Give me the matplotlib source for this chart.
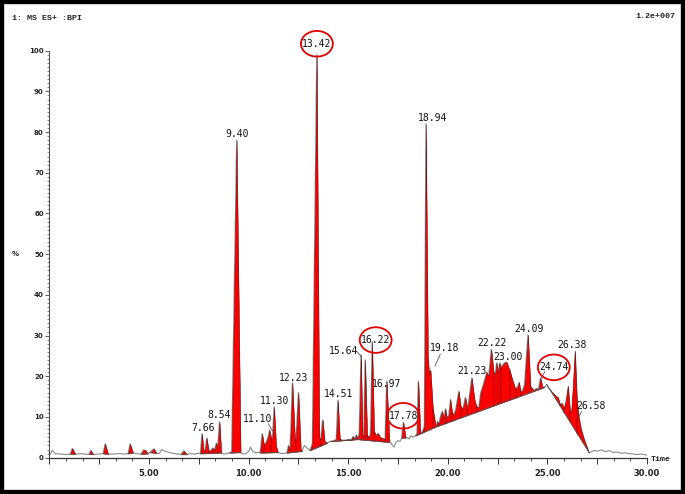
import numpy as np
import matplotlib
matplotlib.use('Agg')
import matplotlib.pyplot as plt
from matplotlib.patches import Ellipse, Rectangle
from matplotlib.ticker import MultipleLocator, FuncFormatter

# Traço do cromatograma (tempo em min, intensidade em %)
tempo = [0.0, 0.15, 0.3, 0.5, 0.9, 1.05, 1.15, 1.3, 1.6, 1.9, 2.0, 2.08, 2.2, 2.5, 2.7, 2.8, 2.95,
         3.2, 3.5, 3.8, 3.95, 4.05, 4.2, 4.4, 4.6, 4.72, 4.82, 4.95, 5.05, 5.25, 5.38, 5.5, 5.65,
         5.8, 6.0, 6.2, 6.4, 6.6, 6.75, 6.9, 7.1, 7.3, 7.5,
         7.58, 7.66, 7.75, 7.82, 7.9, 8.0, 8.1, 8.2, 8.28, 8.38, 8.45, 8.54, 8.63, 8.75, 8.9,
         9.05, 9.15, 9.4, 9.6, 9.7, 9.85, 10.0, 10.1, 10.2, 10.35, 10.5,
         10.58, 10.68, 10.78, 10.9, 11.0, 11.05, 11.15, 11.2, 11.28, 11.38, 11.47, 11.6, 11.75,
         11.92, 12.0, 12.08, 12.2, 12.33, 12.38, 12.5, 12.62, 12.68, 12.8, 12.95,
         13.08, 13.2, 13.42, 13.55, 13.62, 13.72, 13.82, 13.95,
         14.1, 14.3, 14.4, 14.48, 14.58, 14.7, 14.9, 15.0, 15.15, 15.25, 15.32, 15.4, 15.47,
         15.55, 15.64, 15.72, 15.78, 15.85, 15.95, 16.05, 16.12, 16.2, 16.3, 16.4, 16.5, 16.6,
         16.7, 16.8, 16.85, 16.93, 17.07,
         17.15, 17.22, 17.3, 17.4, 17.5, 17.6, 17.68, 17.77, 17.88, 17.95, 18.05, 18.15, 18.25,
         18.38, 18.45, 18.52, 18.62, 18.7, 18.82, 18.9, 19.0, 19.06, 19.13, 19.25, 19.4,
         19.48, 19.55, 19.65, 19.72, 19.8, 19.88, 19.95, 20.05, 20.13, 20.22, 20.3, 20.4, 20.55,
         20.65, 20.75, 20.88, 20.98, 21.05, 21.2, 21.35, 21.45, 21.55, 21.65, 21.75, 21.85,
         21.95, 22.05, 22.18, 22.3, 22.38, 22.45, 22.52, 22.6, 22.67, 22.75, 22.85, 22.95,
         23.1, 23.25, 23.4, 23.5, 23.58, 23.65, 23.75, 23.85, 24.02, 24.15, 24.3, 24.45,
         24.55, 24.65, 24.75, 24.85, 24.97,
         25.05, 25.15, 25.25, 25.35, 25.45, 25.55, 25.65, 25.75, 25.85, 25.95, 26.05, 26.15,
         26.22, 26.3, 26.4, 26.5, 26.58, 26.7, 26.85, 27.0, 27.1,
         27.2, 27.35, 27.5, 27.7, 27.9, 28.1, 28.3, 28.5, 28.7, 28.9, 29.1, 29.3, 29.5, 29.7,
         29.9, 30.0]
intensidade = [0.4, 1.8, 1.0, 0.9, 0.8, 0.9, 2.3, 0.9, 1.0, 0.8, 0.9, 1.8, 0.8, 0.9, 1.0, 3.4, 0.9,
               0.9, 1.0, 0.9, 1.0, 3.4, 1.2, 1.0, 0.9, 1.9, 1.8, 1.0, 1.3, 2.2, 1.1, 1.0, 2.0,
               1.6, 1.3, 1.1, 0.9, 0.8, 1.7, 0.8, 1.0, 0.9, 1.1,
               1.0, 5.9, 1.5, 2.0, 4.8, 1.6, 1.8, 2.4, 1.8, 3.6, 2.5, 8.8, 1.2, 0.9, 1.0,
               1.2, 1.5, 78.0, 1.3, 0.9, 1.0, 1.5, 2.6, 1.6, 1.2, 1.3,
               1.2, 5.9, 3.0, 4.0, 5.5, 6.8, 4.5, 5.0, 12.5, 3.0, 1.3, 1.1, 1.0,
               1.2, 3.0, 1.8, 18.4, 4.0, 4.5, 16.0, 2.0, 1.6, 3.0, 2.3,
               1.8, 3.5, 99.0, 5.0, 4.5, 9.3, 4.0, 3.6,
               4.0, 4.2, 4.6, 14.1, 4.6, 4.3, 4.3, 4.5, 4.4, 5.2, 4.5, 5.6, 4.5,
               6.0, 25.3, 5.5, 5.0, 24.0, 5.5, 5.0, 6.0, 28.5, 6.5, 5.5, 6.0, 5.0,
               4.8, 4.6, 4.5, 18.8, 3.8,
               3.6, 3.0, 2.6, 3.8, 4.2, 4.0, 4.8, 8.7, 4.9, 5.0, 4.6, 5.4, 5.0,
               5.4, 6.0, 18.8, 6.0, 6.3, 7.5, 82.0, 25.0, 20.5, 21.5, 12.0, 7.6,
               8.9, 8.3, 10.5, 11.4, 9.5, 12.0, 9.8, 10.5, 14.3, 11.0, 10.5, 12.0, 16.3,
               12.5, 12.0, 14.8, 12.0, 14.0, 19.6, 14.0, 12.5, 12.3, 16.0, 17.5, 19.2,
               21.0, 20.0, 26.6, 21.0, 20.5, 23.3, 21.0, 23.3, 22.0, 22.8, 23.3, 23.5,
               21.5, 19.0, 16.8, 17.5, 18.5, 16.2, 16.5, 18.0, 30.2, 17.5, 16.6, 17.0,
               16.9, 19.6, 17.4, 17.3, 18.0,
               17.0, 16.6, 16.0, 15.5, 15.0, 14.7, 13.0, 13.3, 12.0, 14.0, 17.5, 11.5,
               11.0, 17.0, 26.1, 13.8, 10.2, 7.0, 4.5, 2.5, 1.2,
               1.4, 1.8, 1.6, 1.9, 1.5, 1.7, 1.3, 1.4, 1.1, 1.2, 1.0, 0.9, 0.8, 0.9,
               0.7, 0.7]

# Grupos integrados (início, fim) e linhas de separação entre picos
grupos = [(1.05, 1.3), (2.0, 2.2), (2.7, 2.95), (3.95, 4.2), (4.6, 4.95), (5.05, 5.38),
          (6.6, 6.9), (7.58, 8.63), (9.05, 9.6), (10.58, 11.47), (11.92, 12.68),
          (13.08, 13.95), (14.1, 15.47), (15.47, 17.07), (17.68, 17.88), (18.38, 19.4),
          (19.4, 24.85), (24.97, 27.1)]
quedas = [7.75, 8.0, 8.28, 8.45, 10.78, 11.15, 12.08, 12.38, 13.62, 14.58, 15.25, 15.72,
          15.95, 16.3, 16.85, 18.62, 18.82, 19.25, 19.55, 19.8, 19.95, 20.22, 20.65, 20.98,
          21.45, 22.3, 22.52, 22.67, 23.1, 23.4, 23.65, 24.15, 24.55, 25.65, 25.85, 26.15,
          26.5]

# Rótulos dos picos
rotulos = ['7.66', '8.54', '9.40', '11.10', '11.30', '12.23', '13.42', '14.51', '15.64',
           '16.22', '16.97', '17.78', '18.94', '19.18', '21.23', '22.22', '23.00', '24.09',
           '24.74', '26.38', '26.58']
rot_t = [7.70, 8.53, 9.42, 10.46, 11.32, 12.24, 13.43, 14.50, 14.75, 16.38, 16.93, 17.76,
         19.25, 19.82, 21.22, 22.23, 23.03, 24.07, 25.32, 26.21, 27.21]
rot_y = [7.2, 10.5, 79.6, 9.5, 13.9, 19.7, 101.7, 15.6, 26.3, 28.9, 18.0, 10.3, 83.5,
         26.9, 21.4, 28.3, 24.7, 31.6, 22.2, 27.7, 12.7]
circulados = ['13.42', '16.22', '17.78', '24.74']
guias = [((11.0, 8.3), (11.2, 6.6)), ((15.43, 26.1), (15.66, 24.8)),
         ((19.62, 25.4), (19.35, 22.5)), ((24.87, 21.1), (24.7, 19.6)),
         ((26.71, 11.3), (26.58, 10.1))]

t = np.array(tempo)
y = np.array(intensidade)

fig = plt.figure(figsize=(6.85, 4.94), dpi=100)
ax = fig.add_axes([0.072, 0.0735, 0.8726, 0.8239])

ax.plot(t, y, color='#8a8a8a', lw=0.8, zorder=1)

for ini, fim in grupos:
    m = (t >= ini) & (t <= fim)
    tt, yy = t[m], y[m]
    base = np.interp(tt, [tt[0], tt[-1]], [yy[0], yy[-1]])
    ax.fill_between(tt, base, yy, where=yy >= base, interpolate=True,
                    facecolor='#ff0000', edgecolor='#5a0000', lw=0.3, zorder=2)
    ax.plot([tt[0], tt[-1]], [yy[0], yy[-1]], color='#555555', lw=0.6, zorder=2)
    for q in quedas:
        if ini < q < fim:
            yq = np.interp(q, tt, yy)
            bq = np.interp(q, [tt[0], tt[-1]], [yy[0], yy[-1]])
            ax.plot([q, q], [bq, yq], color='#5a0000', lw=0.35, zorder=3)

for txt, xt, yt in zip(rotulos, rot_t, rot_y):
    ax.text(xt, yt, txt, fontsize=7, family='DejaVu Sans Mono', color='#111111',
            ha='center', va='center', zorder=5, clip_on=False)
    if txt in circulados:
        ax.add_patch(Ellipse((xt, yt), 1.6, 6.3, fill=False, ec='#e00000', lw=1.3,
                             zorder=6, clip_on=False))

for (x0, y0), (x1, y1) in guias:
    ax.plot([x0, x1], [y0, y1], color='#555555', lw=0.6, zorder=4)

ax.set_xlim(0, 30)
ax.set_ylim(0, 100)
ax.spines['top'].set_visible(False)
ax.spines['right'].set_visible(False)
ax.spines['left'].set_color('#444444')
ax.spines['bottom'].set_color('#333333')
ax.spines['left'].set_linewidth(0.7)
ax.spines['bottom'].set_linewidth(0.9)

ax.xaxis.set_major_locator(MultipleLocator(2.5))
ax.xaxis.set_minor_locator(MultipleLocator(2.5 / 3))
ax.xaxis.set_major_formatter(FuncFormatter(lambda v, p: f'{v:.2f}' if v > 0 and abs(v % 5) < 1e-6 else ''))
ax.yaxis.set_major_locator(MultipleLocator(10))
ax.yaxis.set_minor_locator(MultipleLocator(1))
ax.tick_params(axis='x', which='major', length=4, width=0.7, colors='#333333', labelsize=6, pad=4)
ax.tick_params(axis='x', which='minor', length=2, width=0.6, colors='#333333')
ax.tick_params(axis='y', which='major', length=3, width=0.6, colors='#444444', labelsize=5, pad=1)
ax.tick_params(axis='y', which='minor', length=1.5, width=0.5, colors='#666666')
for lb in ax.get_xticklabels() + ax.get_yticklabels():
    lb.set_fontweight('bold')
    lb.set_color('#222222')

fig.text(12 / 685, 1 - 18 / 494, '1: MS ES+ :BPI', fontsize=6, family='Liberation Mono',
         fontweight='bold', va='center', ha='left', color='#222222')
fig.text(675 / 685, 1 - 17 / 494, '1.2e+007', fontsize=6, family='Liberation Mono',
         fontweight='bold', va='center', ha='right', color='#222222')
fig.text(15 / 685, 1 - 254 / 494, '%', fontsize=5, fontweight='bold', va='center', ha='center',
         color='#222222')
fig.text(651 / 685, 1 - 459 / 494, 'Time', fontsize=6, family='Liberation Mono',
         fontweight='bold', va='center', ha='left', color='#222222')

fig.add_artist(Rectangle((0, 0), 1, 1, transform=fig.transFigure, fill=False,
                         ec='black', lw=6, zorder=10))

fig.savefig('out.png', dpi=100)
